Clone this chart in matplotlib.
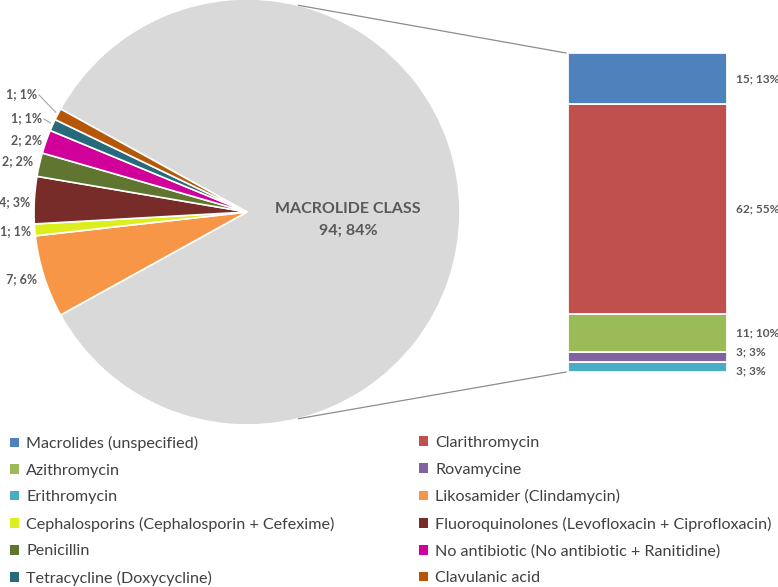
import numpy as np
import matplotlib
matplotlib.use('Agg')
import matplotlib.pyplot as plt
from matplotlib.patches import Patch

plt.rcParams['font.family'] = ['Lato', 'DejaVu Sans']

# 饼图数据（大类）
pie_names = ['MACROLIDE CLASS', 'Likosamider (Clindamycin)', 'Cephalosporins (Cephalosporin + Cefexime)',
             'Fluoroquinolones (Levofloxacin + Ciprofloxacin)', 'Penicillin',
             'No antibiotic (No antibiotic + Ranitidine)', 'Tetracycline (Doxycycline)', 'Clavulanic acid']
pie_values = [94, 7, 1, 4, 2, 2, 1, 1]
pie_pcts = [84, 6, 1, 3, 2, 2, 1, 1]
pie_colors = ['#D9D9D9', '#F79646', '#DDEE1E', '#772C2A', '#5F7530', '#D1009A', '#276A7C', '#B65708']

# 条形图数据（大环内酯类细分），从下往上
bar_names = ['Erithromycin', 'Rovamycine', 'Azithromycin', 'Clarithromycin', 'Macrolides (unspecified)']
bar_values = [3, 3, 11, 62, 15]
bar_pcts = [3, 3, 10, 55, 13]
bar_colors = ['#4BACC6', '#8064A2', '#9BBB59', '#C0504D', '#4F81BD']

# 图例顺序
legend_left = ['Macrolides (unspecified)', 'Azithromycin', 'Erithromycin',
               'Cephalosporins (Cephalosporin + Cefexime)', 'Penicillin', 'Tetracycline (Doxycycline)']
legend_right = ['Clarithromycin', 'Rovamycine', 'Likosamider (Clindamycin)',
                'Fluoroquinolones (Levofloxacin + Ciprofloxacin)',
                'No antibiotic (No antibiotic + Ranitidine)', 'Clavulanic acid']

label_color = '#595959'
W, H = 778, 587

color_map = dict(zip(pie_names, pie_colors))
color_map.update(dict(zip(bar_names, bar_colors)))

fig = plt.figure(figsize=(W / 100, H / 100), dpi=100)
ax = fig.add_axes([0, 0, 1, 1])

# 饼图，像素坐标
cx, cy, R = 247, H - 212, 213
start = 360 * pie_values[0] / sum(pie_values) / 2
wedges, _ = ax.pie(pie_values, colors=pie_colors, startangle=start, counterclock=False,
                   center=(cx, cy), radius=R, frame=True,
                   wedgeprops=dict(edgecolor='white', linewidth=1.2))
ax.set_xlim(0, W)
ax.set_ylim(0, H)
ax.set_aspect('equal')
ax.axis('off')

# 大类标签
ax.text(cx + 0.475 * R, cy - 8, 'MACROLIDE CLASS\n%d; %d%%' % (pie_values[0], pie_pcts[0]),
        ha='center', va='center', fontsize=11.5, fontweight='bold', color=label_color,
        linespacing=1.75)

# 小扇形标签位置（左侧）
label_xy = [(37, H - 279), (31, H - 231), (30, H - 202), (33, H - 161),
            (42, H - 140), (42, H - 118), (37, H - 94)]
for i, (lx, ly) in enumerate(label_xy, start=1):
    ax.text(lx, ly, '%d; %d%%' % (pie_values[i], pie_pcts[i]), ha='right', va='center',
            fontsize=9, fontweight='bold', color=label_color)
    if i >= 6:
        w = wedges[i]
        mid = np.deg2rad((w.theta1 + w.theta2) / 2)
        ex, ey = cx + R * np.cos(mid), cy + R * np.sin(mid)
        ax.plot([lx + 2, ex - 2], [ly - 1, ey + 2], color='#A6A6A6', lw=0.8)

# 连接线
bx0, bx1 = 568, 727
by_top, by_bot = H - 53, H - 372
for ang, by in [(76, by_top), (-76, by_bot)]:
    a = np.deg2rad(ang)
    ax.plot([cx + R * np.cos(a), bx0 - 2], [cy + R * np.sin(a), by], color='#8C8C8C', lw=0.9)

# 堆叠条形
bax = fig.add_axes([bx0 / W, by_bot / H, (bx1 - bx0) / W, (by_top - by_bot) / H])
bottoms = np.concatenate([[0], np.cumsum(bar_values)[:-1]])
bax.bar(0, bar_values, bottom=bottoms, width=1, color=bar_colors, edgecolor='white', linewidth=1.3)
bax.set_xlim(-0.5, 0.5)
bax.set_ylim(0, sum(bar_values))
bax.axis('off')

offsets = [-1.3, 1.3, 0, 0, 0]
for v, p, b, off in zip(bar_values, bar_pcts, bottoms, offsets):
    bax.text(0.555, b + v / 2 + off, '%d; %d%%' % (v, p), ha='left', va='center',
             fontsize=8.6, fontweight='bold', color=label_color, clip_on=False,
             transform=bax.transData)

# 图例
def make_legend(names, x):
    handles = [Patch(facecolor=color_map[n], edgecolor='none') for n in names]
    return fig.legend(handles, names, loc='upper left', bbox_to_anchor=(x / W, 1 - 436 / H),
                      frameon=False, fontsize=11.6, handlelength=0.55, handleheight=0.55,
                      handletextpad=0.45, labelspacing=0.78, borderaxespad=0, borderpad=0,
                      labelcolor='#404040')

leg1 = make_legend(legend_left, 10)
leg2 = make_legend(legend_right, 419)

fig.savefig('out.png', dpi=100)
